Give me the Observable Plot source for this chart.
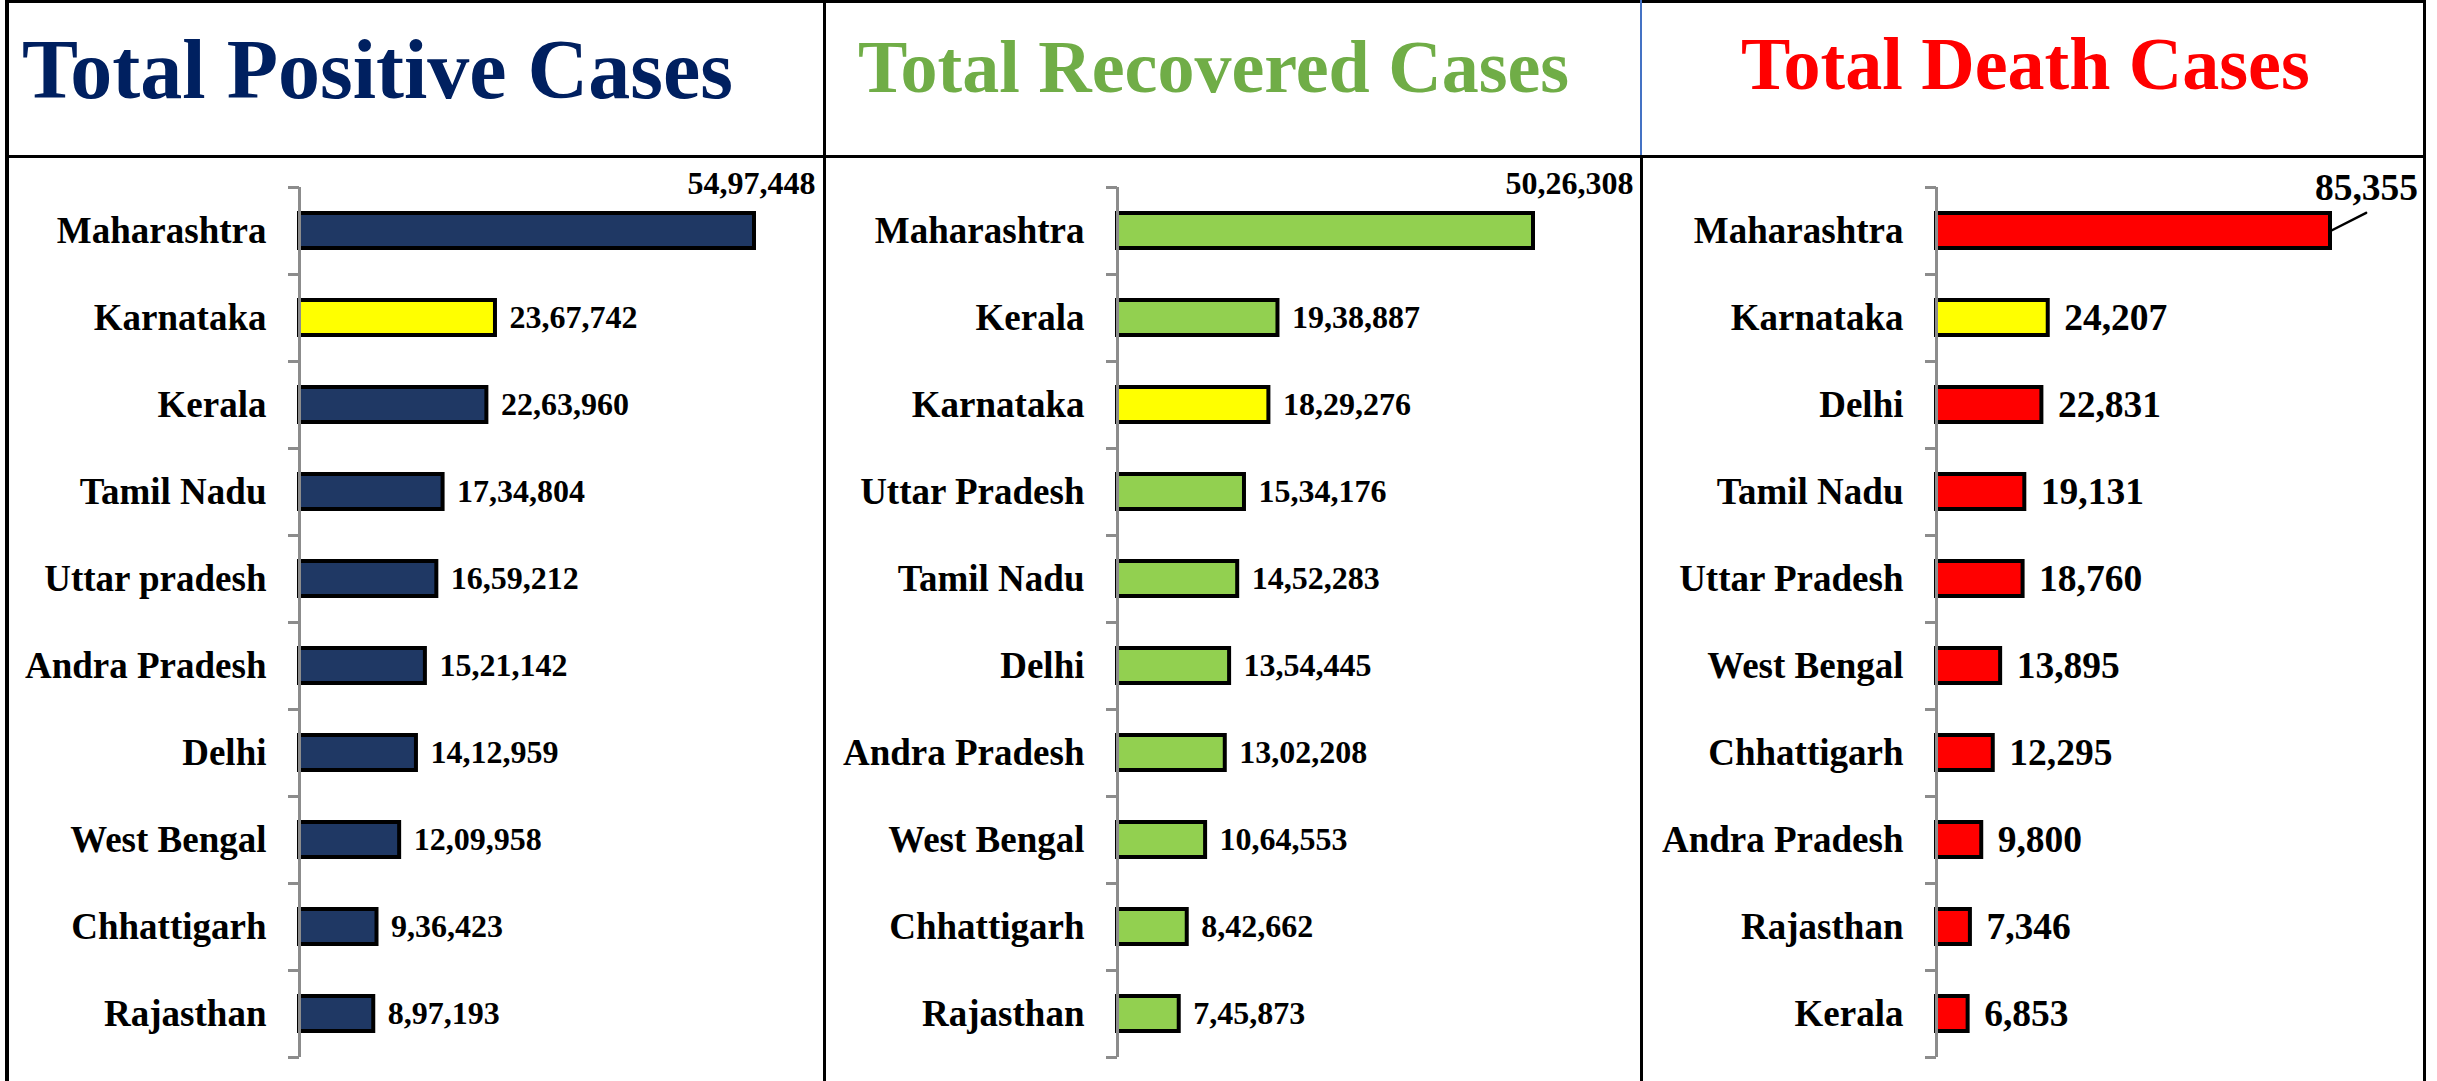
<!DOCTYPE html>
<html>
<head>
<meta charset="utf-8">
<script src="https://cdn.jsdelivr.net/npm/d3@7"></script>
<script src="https://cdn.jsdelivr.net/npm/@observablehq/plot@0.6"></script>
<style>
  html, body { margin: 0; padding: 0; background: #fff; }
  #wrap { position: relative; width: 2437px; height: 1081px; overflow: hidden; background: #fff; font-family: "Liberation Serif", "Times New Roman", serif; }
  .line { position: absolute; background: #000; }
  .title { position: absolute; font-weight: bold; line-height: 1; white-space: nowrap; font-family: "Liberation Serif", "Times New Roman", serif; }
  .panel { position: absolute; top: 160px; }
</style>
</head>
<body>
<div id="wrap"></div>
<script>
// ---- data ----
const positiveStates = ["Maharashtra", "Karnataka", "Kerala", "Tamil Nadu", "Uttar pradesh", "Andra Pradesh", "Delhi", "West Bengal", "Chhattigarh", "Rajasthan"];
const positiveValues = [5497448, 2367742, 2263960, 1734804, 1659212, 1521142, 1412959, 1209958, 936423, 897193];

const recoveredStates = ["Maharashtra", "Kerala", "Karnataka", "Uttar Pradesh", "Tamil Nadu", "Delhi", "Andra Pradesh", "West Bengal", "Chhattigarh", "Rajasthan"];
const recoveredValues = [5026308, 1938887, 1829276, 1534176, 1452283, 1354445, 1302208, 1064553, 842662, 745873];

const deathStates = ["Maharashtra", "Karnataka", "Delhi", "Tamil Nadu", "Uttar Pradesh", "West Bengal", "Chhattigarh", "Andra Pradesh", "Rajasthan", "Kerala"];
const deathValues = [85355, 24207, 22831, 19131, 18760, 13895, 12295, 9800, 7346, 6853];

const titles = ["Total Positive Cases", "Total Recovered Cases", "Total Death Cases"];
const highlightState = "Karnataka";

// ---- helpers ----
const inr = d3.formatLocale({decimal: ".", thousands: ",", grouping: [3, 2, 2, 2, 2], currency: ["₹", ""]}).format(",d");
const wrap = document.getElementById("wrap");

function addLine(left, top, width, height, color) {
  const d = document.createElement("div");
  d.className = "line";
  Object.assign(d.style, {left: left + "px", top: top + "px", width: width + "px", height: height + "px"});
  if (color) d.style.background = color;
  wrap.appendChild(d);
}
function addTitle(text, left, top, size, color) {
  const d = document.createElement("div");
  d.className = "title";
  d.textContent = text;
  Object.assign(d.style, {left: left + "px", top: top + "px", fontSize: size + "px", color});
  wrap.appendChild(d);
}

// frame lines
addLine(5, 0, 2421, 3);            // top border
addLine(5, 0, 4, 1081);            // left border
addLine(2423, 0, 3, 1081);         // right border
addLine(5, 155, 2421, 3);          // header separator
addLine(823, 0, 3, 1081);          // divider 1
addLine(1640, 0, 2, 155, "#4472C4"); // divider 2 (header, blue)
addLine(1640, 155, 3, 926);        // divider 2 (body)

addTitle(titles[0], 22, 28, 84, "#002060");
addTitle(titles[1], 858, 30, 74, "#70AD47");
addTitle(titles[2], 1741, 27, 74, "#FF0000");

const H = 921, MT = 27, MB = 24;
const band = (H - MT - MB) / 10;

function panel({states, values, color, left, width, ml, mr, valueSize, valueDx, top}) {
  const data = states.map((s, i) => ({state: s, value: values[i]}));
  const rest = data.slice(1);
  const first = data.slice(0, 1);
  const marks = [
    Plot.barX(data, {
      x: "value", y: "state",
      fill: d => d.state === highlightState ? "#FFFF00" : color,
      stroke: "#000", strokeWidth: 4
    }),
    Plot.ruleX([0], {stroke: "#8c8c8c", strokeWidth: 3}),
    Plot.axisY({ticks: states, tickSize: 11, tickFormat: () => "", stroke: "#8c8c8c", strokeWidth: 3, dy: -band / 2}),
    Plot.axisY({ticks: states.slice(-1), tickSize: 11, tickFormat: () => "", stroke: "#8c8c8c", strokeWidth: 3, dy: band / 2}),
    Plot.axisY({tickSize: 0, tickPadding: 33, fontSize: 37, fontWeight: "bold", fill: "#000"}),
    Plot.text(rest, {x: "value", y: "state", text: d => inr(d.value), textAnchor: "start", dx: valueDx, fontSize: valueSize, fontWeight: "bold", fill: "#000"}),
    Plot.text(first, {x: "value", y: "state", text: d => inr(d.value), textAnchor: top.anchor, dx: top.dx, dy: top.dy, fontSize: valueSize, fontWeight: "bold", fill: "#000"})
  ];
  if (top.leader) {
    marks.push(Plot.vector(first, {
      x: "value", y: "state", anchor: "start", length: top.leader.length, rotate: top.leader.rotate,
      stroke: "#000", strokeWidth: 2.5,
      shape: {draw(context, l) { context.moveTo(0, 0); context.lineTo(0, -l); }}
    }));
  }
  const chart = Plot.plot({
    width, height: H,
    marginLeft: ml, marginRight: mr, marginTop: MT, marginBottom: MB,
    x: {domain: [0, d3.max(values)], axis: null},
    y: {domain: states, paddingInner: 0.6, paddingOuter: 0.3, align: 0.5, label: null, axis: null},
    style: {fontFamily: "Liberation Serif, Times New Roman, serif", color: "#000", background: "transparent", overflow: "visible"},
    marks
  });
  const holder = document.createElement("div");
  holder.className = "panel";
  holder.style.left = left + "px";
  holder.appendChild(chart);
  wrap.appendChild(holder);
}

panel({states: positiveStates, values: positiveValues, color: "#1F3864", left: 10, width: 812, ml: 289, mr: 68,
  valueSize: 32, valueDx: 14, top: {anchor: "end", dx: 61, dy: -47}});
panel({states: recoveredStates, values: recoveredValues, color: "#92D050", left: 827, width: 812, ml: 290, mr: 106,
  valueSize: 32, valueDx: 14, top: {anchor: "end", dx: 100, dy: -47}});
panel({states: deathStates, values: deathValues, color: "#FF0000", left: 1644, width: 780, ml: 292, mr: 94,
  valueSize: 37.5, valueDx: 16, top: {anchor: "middle", dx: 36, dy: -43, leader: {length: 40, rotate: 63}}});
</script>
</body>
</html>
